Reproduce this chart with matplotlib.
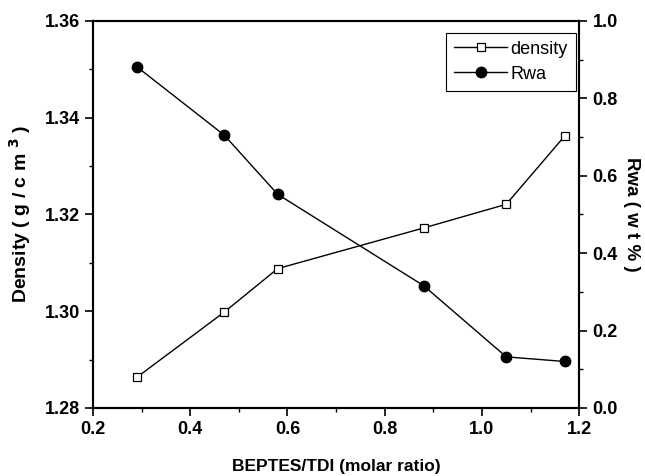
import matplotlib.pyplot as plt
from matplotlib.ticker import MultipleLocator

plt.rcParams['font.family'] = ['Liberation Sans', 'DejaVu Sans']
plt.rcParams['font.weight'] = 'bold'

# data
ratio = [0.29, 0.47, 0.58, 0.88, 1.05, 1.17]
density = [1.2863, 1.2998, 1.3088, 1.3172, 1.3221, 1.3362]
rwa = [0.882, 0.705, 0.552, 0.316, 0.132, 0.120]

fig = plt.figure(figsize=(6.45, 4.76), dpi=100)
ax = fig.add_axes([0.144, 0.143, 0.754, 0.813])
ax2 = ax.twinx()

l1, = ax.plot(ratio, density, color='black', lw=1.0, marker='s', ms=6,
              mfc='white', mec='black', mew=0.9, label='density')
l2, = ax2.plot(ratio, rwa, color='black', lw=1.0, marker='o', ms=7.5,
               mfc='black', mec='black', label='Rwa')

ax.set_xlim(0.2, 1.2)
ax.set_ylim(1.28, 1.36)
ax2.set_ylim(0.0, 1.0)

ax.xaxis.set_major_locator(MultipleLocator(0.2))
ax.xaxis.set_minor_locator(MultipleLocator(0.1))
ax.yaxis.set_major_locator(MultipleLocator(0.02))
ax.yaxis.set_minor_locator(MultipleLocator(0.01))
ax2.yaxis.set_major_locator(MultipleLocator(0.2))
ax2.yaxis.set_minor_locator(MultipleLocator(0.1))
ax.xaxis.set_major_formatter(plt.FormatStrFormatter('%.1f'))
ax.yaxis.set_major_formatter(plt.FormatStrFormatter('%.2f'))
ax2.yaxis.set_major_formatter(plt.FormatStrFormatter('%.1f'))

for a in (ax, ax2):
    a.tick_params(which='major', direction='out', length=6, width=1.2, labelsize=13)
    a.tick_params(which='minor', direction='out', length=3, width=1.0)
    for s in a.spines.values():
        s.set_linewidth(1.5)

ax.set_xlabel('BEPTES/TDI (molar ratio)', fontsize=12.5, fontweight='bold', labelpad=15)
ax.set_ylabel('Density ( g / c m $^{3}$ )', fontsize=14, fontweight='bold', labelpad=8)
ax2.set_ylabel('Rwa ( w t % )', fontsize=13.5, fontweight='bold', rotation=270, labelpad=16)

leg = ax2.legend([l1, l2], ['density', 'Rwa'], loc='upper right',
                 bbox_to_anchor=(0.993, 0.97), fancybox=False, edgecolor='black',
                 framealpha=1, prop={'size': 13, 'weight': 'normal'},
                 handlelength=2.9, handletextpad=0.2, borderpad=0.45,
                 labelspacing=0.45, borderaxespad=0)
leg.get_frame().set_linewidth(0.8)

fig.savefig('out.png', dpi=100)
